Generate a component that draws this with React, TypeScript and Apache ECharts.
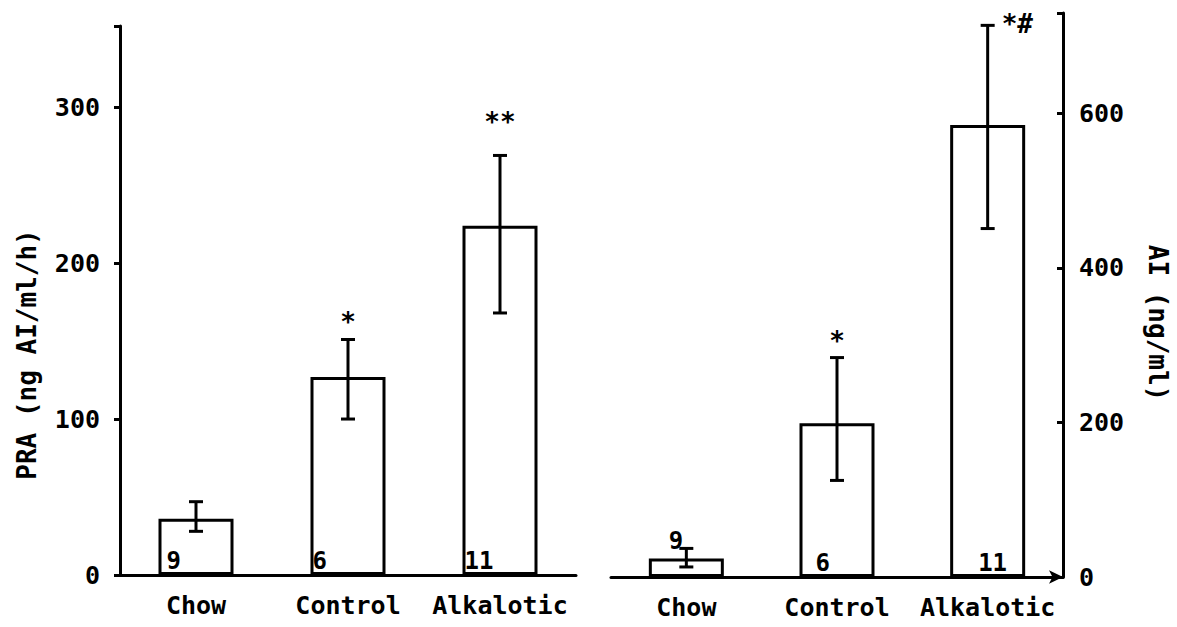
import React, { useEffect, useRef } from "react";
import * as echarts from "echarts";

const categories = ["Chow", "Control", "Alkalotic"];
const praMean = [36, 127, 224];
const praLow = [28, 100, 168];
const praHigh = [47, 151, 269];
const aiMean = [24, 199, 585];
const aiLow = [13, 125, 451];
const aiHigh = [37, 284, 714];
const nValues = [9, 6, 11];
const praSig = ["", "*", "**"];
const aiSig = ["", "*", "*#"];
const praTicks = [0, 100, 200, 300];
const aiTicks = [0, 200, 400, 600];

const FONT = "DejaVu Sans Mono";

// style-only offsets for annotations (pixels)
const praSigOffset = [[0, 0], [0, -2], [0, -18]];
const aiSigOffset = [[0, 0], [0, -2], [14, 14]];
const praNOffset = [[6, 0], [0, 0], [0, 0]];
const aiNOffset = [[18, -22], [14, 0], [26, 0]];

function errorSeries(low: number[], high: number[], sig: string[], offs: number[][], xi: number, yi: number) {
  return {
    type: "custom",
    xAxisIndex: xi,
    yAxisIndex: yi,
    z: 5,
    data: low.map((l, i) => [i, l, high[i]]),
    renderItem: (params: any, api: any) => {
      const idx = api.value(0);
      const lo = api.coord([idx, api.value(1)]);
      const hi = api.coord([idx, api.value(2)]);
      const cap = 7;
      const st = { stroke: "#000", lineWidth: 3 };
      const s = sig[params.dataIndex];
      const o = offs[params.dataIndex];
      const children: any[] = [
        { type: "line", shape: { x1: lo[0], y1: lo[1], x2: hi[0], y2: hi[1] }, style: st },
        { type: "line", shape: { x1: hi[0] - cap, y1: hi[1], x2: hi[0] + cap, y2: hi[1] }, style: st },
        { type: "line", shape: { x1: lo[0] - cap, y1: lo[1], x2: lo[0] + cap, y2: lo[1] }, style: st },
      ];
      if (s) {
        children.push({
          type: "text",
          style: {
            text: s,
            x: hi[0] + o[0],
            y: hi[1] - 2 + o[1],
            align: o[0] > 0 ? "left" : "center",
            verticalAlign: "bottom",
            fontFamily: FONT,
            fontSize: 26,
            fontWeight: "bold",
            fill: "#000",
          },
        });
      }
      return { type: "group", children };
    },
  };
}

function barSeries(values: number[], offs: number[][], xi: number, yi: number) {
  return {
    type: "bar",
    xAxisIndex: xi,
    yAxisIndex: yi,
    barWidth: 75,
    itemStyle: { color: "#fff", borderColor: "#000", borderWidth: 3 },
    data: values.map((v, i) => ({
      value: v,
      label: {
        show: true,
        position: "insideBottomLeft",
        distance: 2,
        offset: offs[i],
        formatter: String(nValues[i]),
        fontFamily: FONT,
        fontSize: 24,
        fontWeight: "bold",
        color: "#000",
      },
    })),
  };
}

export default function App() {
  const ref = useRef<HTMLDivElement>(null);
  useEffect(() => {
    const chart = echarts.init(ref.current!, null, { renderer: "svg" });
    const axisLabel = { fontFamily: FONT, fontSize: 25, fontWeight: "bold", color: "#000" };
    const lineStyle = { color: "#000", width: 3 };
    chart.setOption({
      animation: false,
      backgroundColor: "#fff",
      grid: [
        { left: 120, top: 26, width: 456, height: 549 },
        { left: 611, top: 13, width: 452, height: 564 },
      ],
      xAxis: [0, 1].map((g) => ({
        type: "category",
        gridIndex: g,
        data: categories,
        axisLine: {
          show: true,
          lineStyle,
          symbol: g === 1 ? ["none", "arrow"] : ["none", "none"],
          symbolSize: [10, 14],
        },
        axisTick: { show: false },
        axisLabel: { ...axisLabel, fontSize: 25, margin: 18, interval: 0, hideOverlap: false },
      })),
      yAxis: [
        {
          type: "value",
          gridIndex: 0,
          min: 0,
          max: 352,
          interval: 100,
          name: "PRA (ng AI/ml/h)",
          nameLocation: "middle",
          nameRotate: 90,
          nameGap: 80,
          nameTextStyle: { fontFamily: FONT, fontSize: 26, fontWeight: "bold", color: "#000", padding: [0, 108, 0, 0] },
          axisLine: { show: true, lineStyle },
          axisTick: { show: true, length: 6, lineStyle },
          axisLabel: { ...axisLabel, margin: 20, formatter: (v: number) => (praTicks.includes(v) ? String(v) : "") },
          splitLine: { show: false },
        },
        {
          type: "value",
          gridIndex: 1,
          position: "right",
          min: 0,
          max: 730,
          interval: 200,
          name: "AI (ng/ml)",
          nameLocation: "middle",
          nameRotate: -90,
          nameGap: 82,
          nameTextStyle: { fontFamily: FONT, fontSize: 26, fontWeight: "bold", color: "#000", padding: [0, 0, 0, 56] },
          axisLine: { show: true, lineStyle },
          axisTick: { show: true, inside: true, length: 6, lineStyle },
          axisLabel: { ...axisLabel, margin: 16, formatter: (v: number) => (aiTicks.includes(v) ? String(v) : "") },
          splitLine: { show: false },
        },
      ],
      series: [
        barSeries(praMean, praNOffset, 0, 0),
        errorSeries(praLow, praHigh, praSig, praSigOffset, 0, 0),
        barSeries(aiMean, aiNOffset, 1, 1),
        errorSeries(aiLow, aiHigh, aiSig, aiSigOffset, 1, 1),
      ],
    });
    return () => chart.dispose();
  }, []);
  return (
    <div
      ref={ref}
      style={{ position: "fixed", left: 0, top: 0, width: 1177, height: 627, background: "#fff" }}
    />
  );
}
